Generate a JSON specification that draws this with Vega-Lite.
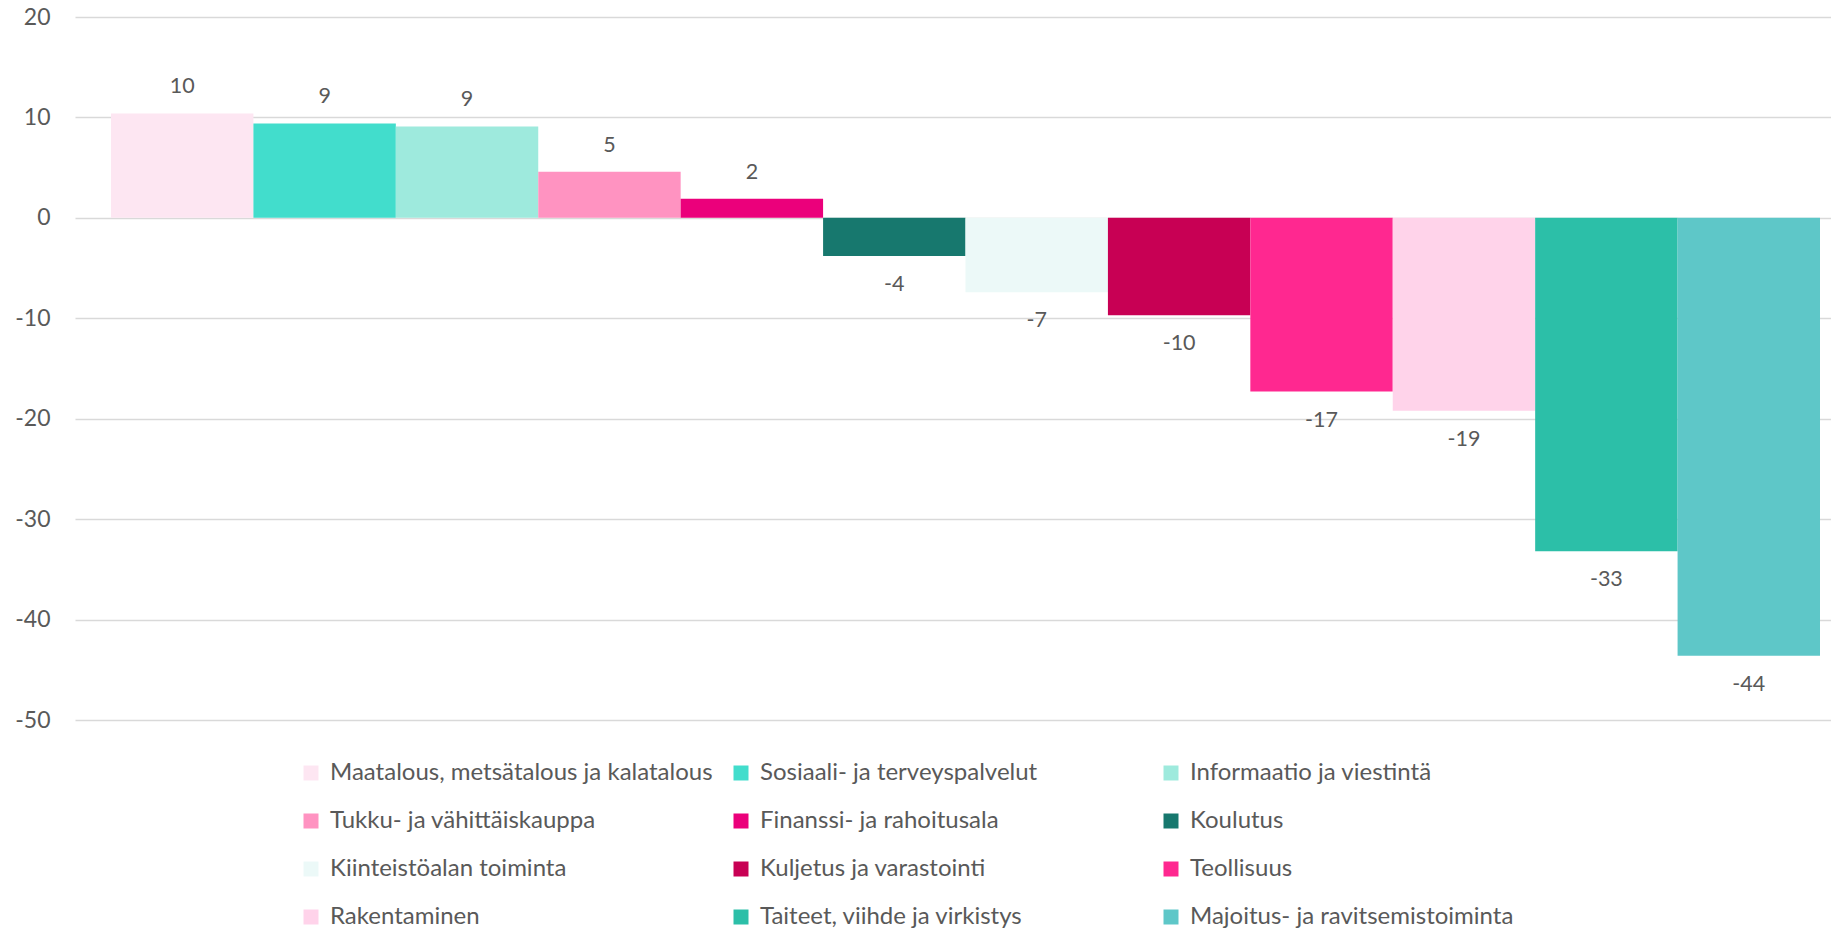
{
  "$schema": "https://vega.github.io/schema/vega-lite/v6.json",
  "width": 1756,
  "height": 703,
  "autosize": {"type": "none"},
  "padding": {"left": 75, "top": 17, "right": 0, "bottom": 210},
  "background": "white",
  "data": {
    "values": [
      {"ala": "Maatalous, metsätalous ja kalatalous", "arvo": 10.4},
      {"ala": "Sosiaali- ja terveyspalvelut", "arvo": 9.4},
      {"ala": "Informaatio ja viestintä", "arvo": 9.1},
      {"ala": "Tukku- ja vähittäiskauppa", "arvo": 4.6},
      {"ala": "Finanssi- ja rahoitusala", "arvo": 1.9},
      {"ala": "Koulutus", "arvo": -3.8},
      {"ala": "Kiinteistöalan toiminta", "arvo": -7.4},
      {"ala": "Kuljetus ja varastointi", "arvo": -9.7},
      {"ala": "Teollisuus", "arvo": -17.3},
      {"ala": "Rakentaminen", "arvo": -19.2},
      {"ala": "Taiteet, viihde ja virkistys", "arvo": -33.2},
      {"ala": "Majoitus- ja ravitsemistoiminta", "arvo": -43.6}
    ]
  },
  "encoding": {
    "x": {
      "field": "ala",
      "type": "nominal",
      "sort": null,
      "axis": null,
      "scale": {"paddingInner": 0, "paddingOuter": 0.165, "align": 0.766}
    },
    "y": {
      "field": "arvo",
      "type": "quantitative",
      "scale": {"domain": [-50, 20], "nice": false, "zero": false},
      "axis": {
        "title": null,
        "values": [-50, -40, -30, -20, -10, 0, 10, 20],
        "domain": false,
        "ticks": false,
        "labelPadding": 25,
        "labelFont": "Lato",
        "labelFontSize": 23,
        "labelColor": "#595959",
        "gridColor": "#D9D9D9",
        "gridWidth": 1.5
      }
    }
  },
  "layer": [
    {
      "mark": {"type": "bar"},
      "encoding": {
        "color": {
          "field": "ala",
          "type": "nominal",
          "sort": null,
          "scale": {
            "domain": [
              "Maatalous, metsätalous ja kalatalous",
              "Sosiaali- ja terveyspalvelut",
              "Informaatio ja viestintä",
              "Tukku- ja vähittäiskauppa",
              "Finanssi- ja rahoitusala",
              "Koulutus",
              "Kiinteistöalan toiminta",
              "Kuljetus ja varastointi",
              "Teollisuus",
              "Rakentaminen",
              "Taiteet, viihde ja virkistys",
              "Majoitus- ja ravitsemistoiminta"
            ],
            "range": ["#FDE6F2", "#42DDCC", "#9EEADD", "#FF93C1", "#EB007B", "#17786E", "#ECF9F8", "#C80054", "#FF2890", "#FFD3EA", "#2CBFA8", "#5EC7C8"]
          },
          "legend": {
            "title": null,
            "orient": "none",
            "legendX": 224,
            "legendY": 744,
            "columns": 3,
            "direction": "horizontal",
            "gridAlign": "all",
            "columnPadding": 16,
            "rowPadding": 24,
            "padding": 0,
            "symbolType": "square",
            "symbolSize": 225,
            "symbolStrokeWidth": 0,
            "labelOffset": 7,
            "labelFont": "Lato",
            "labelFontSize": 24,
            "labelColor": "#595959",
            "labelLimit": 1000
          }
        }
      }
    },
    {
      "transform": [{"filter": "datum.arvo >= 0"}],
      "mark": {"type": "text", "baseline": "middle", "dy": -26, "font": "Lato", "fontSize": 21.5, "color": "#595959"},
      "encoding": {"text": {"field": "arvo", "type": "quantitative", "format": ".0f"}}
    },
    {
      "transform": [{"filter": "datum.arvo < 0"}],
      "mark": {"type": "text", "baseline": "middle", "dy": 29, "font": "Lato", "fontSize": 21.5, "color": "#595959"},
      "encoding": {"text": {"field": "arvo", "type": "quantitative", "format": ".0f"}}
    }
  ],
  "config": {
    "view": {"stroke": null},
    "locale": {"number": {"decimal": ".", "thousands": ",", "grouping": [3], "currency": ["$", ""], "minus": "-"}}
  }
}
